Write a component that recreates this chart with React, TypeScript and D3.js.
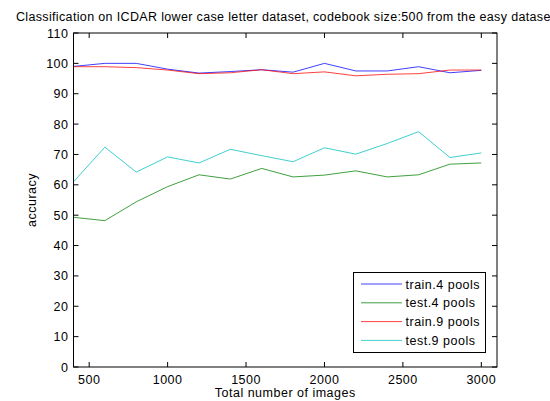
import React from 'react'
import * as d3 from 'd3'

// number of training images
const sizes = [400, 600, 800, 1000, 1200, 1400, 1600, 1800, 2000, 2200, 2400, 2600, 2800, 3000];

const train4 = [99.0, 100.0, 100.0, 98.1, 96.8, 97.3, 97.9, 97.1, 100.0, 97.5, 97.5, 98.9, 96.9, 97.7];
const test4 = [49.3, 48.2, 54.4, 59.4, 63.3, 61.9, 65.4, 62.6, 63.2, 64.6, 62.6, 63.3, 66.8, 67.2];
const train9 = [98.9, 98.9, 98.6, 97.8, 96.6, 96.9, 97.9, 96.6, 97.2, 95.9, 96.4, 96.6, 97.8, 97.8];
const test9 = [61.0, 72.4, 64.2, 69.2, 67.2, 71.7, 69.6, 67.6, 72.2, 70.1, 73.6, 77.5, 69.0, 70.5];

const seriesNames = ['train.4 pools', 'test.4 pools', 'train.9 pools', 'test.9 pools'];
const seriesColors = ['#0000ff', '#008000', '#ff0000', '#00bfbf'];
const allSeries = [train4, test4, train9, test9];

const xTicks = [500, 1000, 1500, 2000, 2500, 3000];
const yTicks = [0, 10, 20, 30, 40, 50, 60, 70, 80, 90, 100, 110];

const title = 'Classification on ICDAR lower case letter dataset, codebook size:500 from the easy dataset';

const W = 550, H = 401;
const left = 73.5, right = 497, top = 33, bottom = 367;
const font = '"Liberation Sans", Arial, Helvetica, sans-serif';
const fs = 12.5;
const ls = 0.5;

export default function App() {
    const x = d3.scaleLinear().domain([400, 3100]).range([left, right]);
    const y = d3.scaleLinear().domain([0, 110]).range([bottom, top]);

    const line = d3.line<number>()
        .x((d, i) => x(sizes[i]))
        .y(d => y(d));

    const tk = 5;
    const legX = 353.5, legY = 272.5, legW = 132, legH = 80;

    return (
        <svg width={W} height={H} style={{position: 'absolute', left: 0, top: 0, background: '#fff'}}
             fontFamily={font}>
            <text x={(left + right) / 2} y={21} textAnchor="middle" fontSize={fs} letterSpacing={0.35} fill="#000">{title}</text>

            {/* series */}
            <g fill="none" strokeWidth={1}>
                {allSeries.map((s, i) =>
                    <path key={i} d={line(s) || ''} stroke={seriesColors[i]} strokeOpacity={0.75}/>
                )}
            </g>

            {/* axes box */}
            <rect x={left} y={top} width={right - left} height={bottom - top} fill="none" stroke="#000" strokeWidth={1}/>

            <g stroke="#000" strokeWidth={1}>
                {xTicks.map(t =>
                    <g key={t}>
                        <line x1={x(t)} x2={x(t)} y1={bottom} y2={bottom - tk}/>
                        <line x1={x(t)} x2={x(t)} y1={top} y2={top + tk}/>
                    </g>
                )}
                {yTicks.map(t =>
                    <g key={t}>
                        <line x1={left} x2={left + tk} y1={y(t)} y2={y(t)}/>
                        <line x1={right} x2={right - tk} y1={y(t)} y2={y(t)}/>
                    </g>
                )}
            </g>

            <g fontSize={fs} letterSpacing={ls} fill="#000">
                {xTicks.map(t =>
                    <text key={t} x={x(t)} y={bottom + 17} textAnchor="middle">{t}</text>
                )}
                {yTicks.map(t =>
                    <text key={t} x={left - 5} y={y(t) + 4.5} textAnchor="end">{t}</text>
                )}
            </g>

            <text x={(left + right) / 2} y={397} textAnchor="middle" fontSize={fs} letterSpacing={ls}>Total number of images</text>
            <text transform={`translate(36,${(top + bottom) / 2}) rotate(-90)`} textAnchor="middle" fontSize={fs} letterSpacing={ls}>accuracy</text>

            {/* legend */}
            <rect x={legX} y={legY} width={legW} height={legH} fill="#fff" stroke="#000" strokeWidth={1}/>
            {seriesNames.map((n, i) => {
                const ry = 284 + i * 18.8;
                return (
                    <g key={n}>
                        <line x1={361} x2={402} y1={ry} y2={ry} stroke={seriesColors[i]} strokeOpacity={0.75}/>
                        <text x={405.5} y={ry + 4.5} fontSize={fs} letterSpacing={ls}>{n}</text>
                    </g>
                );
            })}
        </svg>
    );
}
